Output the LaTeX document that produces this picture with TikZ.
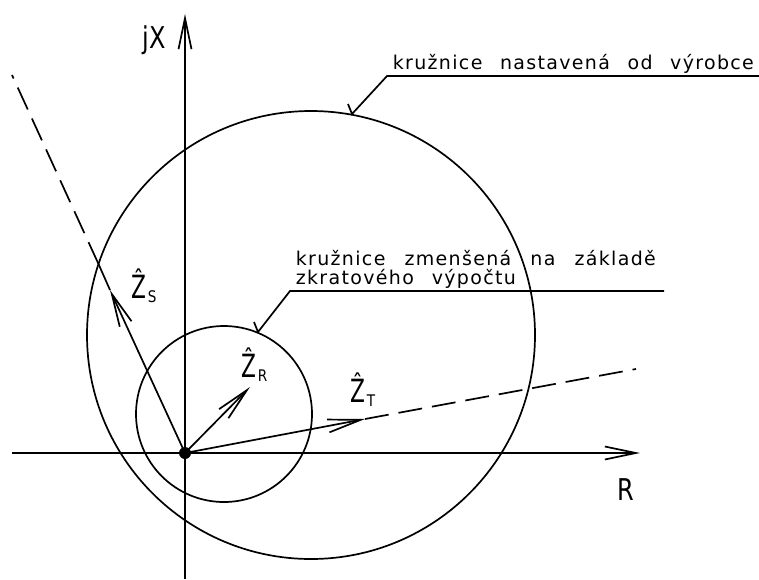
\documentclass[tikz,border=0pt]{standalone}
\usepackage{fontspec}
\setmainfont{DejaVu Sans}
\newfontfamily\cadfont{DejaVu Sans}[LetterSpace=7]
\usetikzlibrary{arrows.meta}
\newcommand\hatZ{\scalebox{0.68}[1]{Ẑ}}
\newcommand\subsc[1]{\hspace{1pt}\raisebox{-4pt}{\fontsize{16}{16}\selectfont\scalebox{0.85}[1]{#1}}}
\begin{document}
\begin{tikzpicture}[x=1pt,y=-1pt,line width=1.7pt,
  vec/.style={-{Straight Barb[length=33pt,width=13pt]}},
  axis/.style={-{Straight Barb[length=31pt,width=13pt]}},
  dashline/.style={dash pattern=on 24pt off 10pt},
  ring/.style={circle,draw,inner sep=0pt},
  lbl/.style={anchor=base west,inner sep=0pt,font=\cadfont\fontsize{19}{19}\selectfont},
  zl/.style={anchor=base west,inner sep=0pt,font=\fontsize{32}{32}\selectfont},
  axl/.style={anchor=base west,inner sep=0pt,font=\fontsize{30}{30}\selectfont}]
\useasboundingbox (0,0) rectangle (759,579);
% axes
\coordinate (xs) at (12,453);
\coordinate (xe) at (640,453);
\coordinate (ys) at (185,579);
\coordinate (ye) at (185,14);
\draw[axis] (xs) -- (xe);
\draw[axis] (ys) -- (ye);
\node[axl] (jx) at (142,48) {\scalebox{0.8}[1]{jX}};
\node[axl] (Rl) at (617,500) {\scalebox{0.8}[1]{R}};
% circles
\node[ring,minimum size=448pt] (big) at (311,335) {};
\node[ring,minimum size=176pt] (small) at (224,414) {};
% origin
\node[circle,fill,inner sep=0pt,minimum size=12pt] (O) at (185,453) {};
% vectors
\coordinate (ZsTip) at (110,290);
\coordinate (ZsC) at (98.5,264);
\coordinate (ZsEnd) at (12,75);
\draw[vec] (O.center) -- (ZsTip);
\draw (ZsTip) -- (ZsC);
\draw[dashline] (ZsC) -- (ZsEnd);
\coordinate (ZrTip) at (250,387);
\draw[vec] (O.center) -- (ZrTip);
\coordinate (ZtTip) at (365,419);
\coordinate (ZtEnd) at (636,369);
\draw[vec] (O.center) -- (ZtTip);
\draw[dashline] (ZtTip) -- (ZtEnd);
% vector labels
\node[zl] (Zs) at (131,298) {\hatZ\subsc{S}};
\node[zl] (Zr) at (241,377) {\hatZ\subsc{R}};
\node[zl] (Zt) at (350,402) {\hatZ\subsc{T}};
% leader for big circle
\coordinate (b1) at (759,76);
\coordinate (b2) at (387,76);
\coordinate (b3) at (352,114);
\coordinate (b4) at (348,104);
\draw (b1) -- (b2) -- (b3) -- (b4);
\node[lbl] (t1) at (392,69) {\makebox[361pt][s]{kružnice nastavená od výrobce}};
% leader for small circle
\coordinate (s1) at (664,291);
\coordinate (s2) at (290,291);
\coordinate (s3) at (258,332);
\coordinate (s4) at (254,322);
\draw (s1) -- (s2) -- (s3) -- (s4);
\node[lbl] (t2) at (295,265) {\makebox[360pt][s]{kružnice zmenšená na základě}};
\node[lbl] (t3) at (295,284) {\makebox[220pt][s]{zkratového výpočtu}};
\end{tikzpicture}
\end{document}
